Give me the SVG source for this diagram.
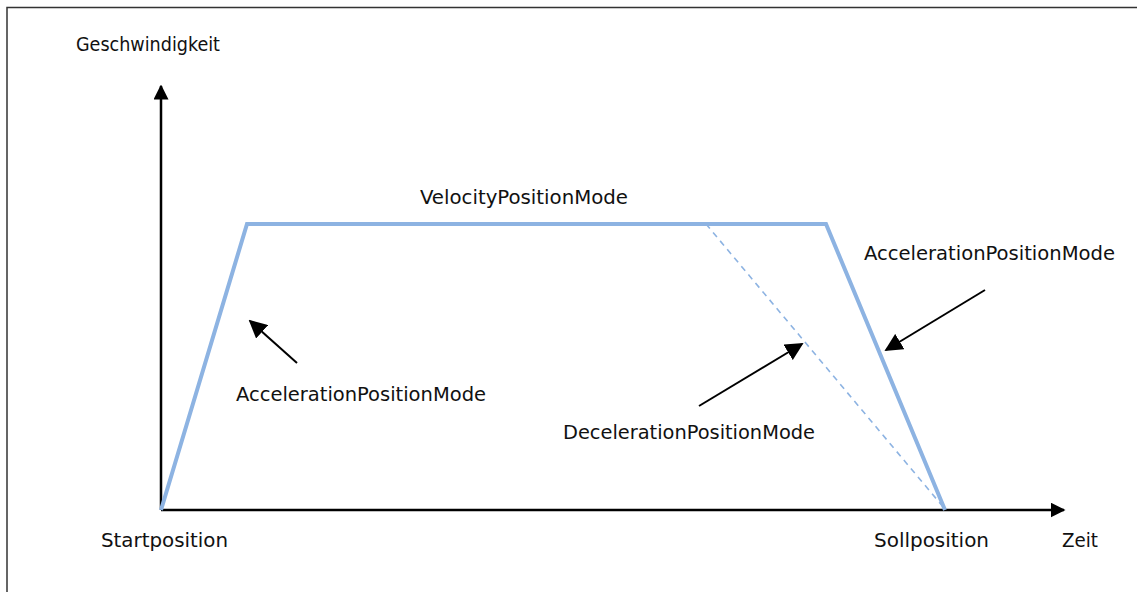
<svg xmlns="http://www.w3.org/2000/svg" width="1137" height="592" viewBox="0 0 1137 592">
<style>
text{font-family:"DejaVu Sans Condensed","Liberation Sans",sans-serif;font-size:20px;fill:#111}
.ax{stroke:#000;stroke-width:2.5;fill:none}
.ptr{stroke:#000;stroke-width:2;fill:none}
.prof{stroke:#8db3e2;stroke-width:4;fill:none;stroke-linejoin:miter}
.dash{stroke:#8db3e2;stroke-width:1.6;fill:none;stroke-dasharray:6 5}
</style>
<defs>
<marker id="ah" viewBox="0 0 10 10" refX="9" refY="5" markerWidth="6" markerHeight="6" markerUnits="strokeWidth" orient="auto">
<path d="M0,0 L10,5 L0,10 Z" fill="#000"/>
</marker>
<marker id="ahs" viewBox="0 0 10 10" refX="9" refY="5" markerWidth="9" markerHeight="9" markerUnits="strokeWidth" orient="auto">
<path d="M0,0 L10,5 L0,10 Z" fill="#000"/>
</marker>
</defs>
<g id="frame">
<path d="M7,592 V7.5 H1137" stroke="#333" stroke-width="1.5" fill="none"/>
</g>
<g id="connectors">
<line class="ax" x1="161" y1="510" x2="161" y2="86" marker-end="url(#ah)"/>
<line class="ax" x1="161" y1="510" x2="1064" y2="510" marker-end="url(#ah)"/>
<path class="dash" d="M706,224 L944,508"/>
<path class="prof" d="M161,510 L247,224 L826,224 L945,510"/>
<line class="ptr" x1="297" y1="363" x2="250" y2="321" marker-end="url(#ahs)"/>
<line class="ptr" x1="699" y1="406" x2="802" y2="344" marker-end="url(#ahs)"/>
<line class="ptr" x1="985" y1="290" x2="886" y2="350" marker-end="url(#ahs)"/>
</g>
<g id="labels">
<text x="76" y="51" textLength="144" lengthAdjust="spacingAndGlyphs">Geschwindigkeit</text>
<text x="420" y="204" textLength="208" lengthAdjust="spacingAndGlyphs">VelocityPositionMode</text>
<text x="864" y="260" textLength="251" lengthAdjust="spacingAndGlyphs">AccelerationPositionMode</text>
<text x="236" y="401" textLength="250" lengthAdjust="spacingAndGlyphs">AccelerationPositionMode</text>
<text x="563" y="439" textLength="252" lengthAdjust="spacingAndGlyphs">DecelerationPositionMode</text>
<text x="101" y="547" textLength="127" lengthAdjust="spacingAndGlyphs">Startposition</text>
<text x="874" y="547" textLength="115" lengthAdjust="spacingAndGlyphs">Sollposition</text>
<text x="1062" y="547" textLength="36" lengthAdjust="spacingAndGlyphs">Zeit</text>
</g>
</svg>
